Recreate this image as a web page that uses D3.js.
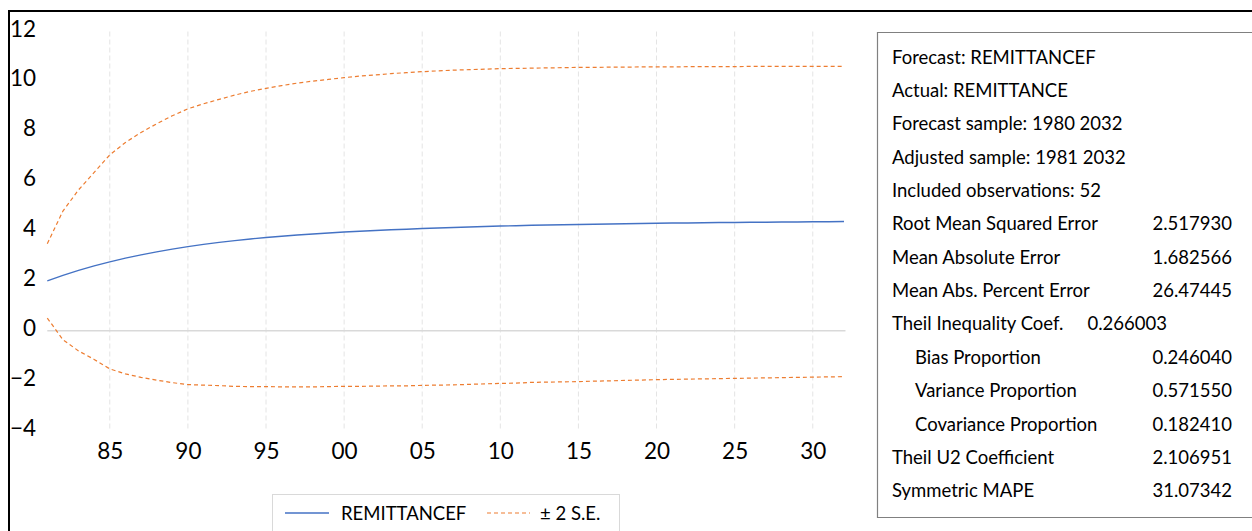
<!DOCTYPE html>
<html>
<head>
<meta charset="utf-8">
<script src="https://cdn.jsdelivr.net/npm/d3@7"></script>
<style>
  html, body { margin: 0; padding: 0; background: #fff; }
  svg { display: block; }
  text { font-family: Lato, "Open Sans", sans-serif; fill: #000; }
</style>
</head>
<body>
<svg id="chart" width="1252" height="531"></svg>
<script>
// ---------- data ----------
const years = d3.range(1981, 2033);
const forecast = [
  2.00, 2.22, 2.42, 2.60, 2.76, 2.91, 3.04, 3.16, 3.27, 3.37,
  3.46, 3.54, 3.61, 3.68, 3.74, 3.79, 3.84, 3.88, 3.92, 3.96,
  3.99, 4.02, 4.05, 4.07, 4.10, 4.12, 4.14, 4.16, 4.18, 4.20,
  4.21, 4.23, 4.24, 4.25, 4.26, 4.27, 4.28, 4.29, 4.30, 4.31,
  4.32, 4.32, 4.33, 4.34, 4.34, 4.35, 4.35, 4.36, 4.36, 4.37,
  4.37, 4.38
];
const upper = [
  3.49, 4.80, 5.65, 6.35, 7.05, 7.55, 7.95, 8.30, 8.62, 8.90,
  9.10, 9.28, 9.45, 9.60, 9.72, 9.83, 9.93, 10.01, 10.08, 10.15,
  10.21, 10.26, 10.31, 10.35, 10.39, 10.42, 10.45, 10.47, 10.49, 10.51,
  10.52, 10.53, 10.54, 10.55, 10.56, 10.56, 10.57, 10.57, 10.58, 10.58,
  10.58, 10.59, 10.59, 10.59, 10.59, 10.60, 10.60, 10.60, 10.60, 10.60,
  10.60, 10.60
];
const lower = [
  0.51, -0.36, -0.81, -1.15, -1.53, -1.73, -1.87, -1.98, -2.08, -2.16,
  -2.18, -2.20, -2.23, -2.24, -2.24, -2.25, -2.25, -2.25, -2.24, -2.23,
  -2.23, -2.22, -2.21, -2.21, -2.19, -2.18, -2.17, -2.15, -2.13, -2.11,
  -2.10, -2.07, -2.06, -2.05, -2.04, -2.02, -2.01, -1.99, -1.98, -1.96,
  -1.95, -1.94, -1.93, -1.92, -1.91, -1.90, -1.89, -1.88, -1.87, -1.86,
  -1.85, -1.84
];
const xTickYears = [1985, 1990, 1995, 2000, 2005, 2010, 2015, 2020, 2025, 2030];
const yTicks = [-4, -2, 0, 2, 4, 6, 8, 10, 12];
const legendLabels = ["REMITTANCEF", "\u00B1 2 S.E."];
const statLabels = [
  "Forecast: REMITTANCEF",
  "Actual: REMITTANCE",
  "Forecast sample: 1980 2032",
  "Adjusted sample: 1981 2032",
  "Included observations: 52",
  "Root Mean Squared Error",
  "Mean Absolute Error",
  "Mean Abs. Percent Error",
  "Theil Inequality Coef.",
  "Bias Proportion",
  "Variance Proportion",
  "Covariance Proportion",
  "Theil U2 Coefficient",
  "Symmetric MAPE"
];
const statValues = [
  "", "", "", "", "",
  "2.517930", "1.682566", "26.47445", "0.266003",
  "0.246040", "0.571550", "0.182410", "2.106951", "31.07342"
];
const statIndent = [0,0,0,0,0,0,0,0,0,1,1,1,0,0];

// ---------- drawing ----------
const svg = d3.select("#chart");
const blue = "#4472C4", orange = "#ED7D31";

const x = d3.scaleLinear().domain([1981, 2032]).range([47.3, 844]);
const y = d3.scaleLinear().domain([-4, 12]).range([430.5, 31.5]);

// outer frame (top and left edges visible)
svg.append("line").attr("x1", 8).attr("x2", 1252).attr("y1", 11).attr("y2", 11)
  .attr("stroke", "#000").attr("stroke-width", 2);
svg.append("line").attr("x1", 9).attr("x2", 9).attr("y1", 10).attr("y2", 531)
  .attr("stroke", "#000").attr("stroke-width", 2);

// vertical dashed gridlines
svg.append("g").selectAll("line").data(xTickYears).join("line")
  .attr("x1", d => x(d)).attr("x2", d => x(d))
  .attr("y1", y(12)).attr("y2", y(-4))
  .attr("stroke", "#e4e4e4").attr("stroke-width", 1)
  .attr("stroke-dasharray", "5,3");

// zero line
svg.append("line").attr("x1", x(1981)).attr("x2", x(2032) + 1.5)
  .attr("y1", y(0)).attr("y2", y(0))
  .attr("stroke", "#d9d9d9").attr("stroke-width", 1.5);

// y axis labels (no domain line)
const yAxis = d3.axisLeft(y).tickValues(yTicks).tickSize(0).tickPadding(0)
  .tickFormat(d3.format("d"));
const gy = svg.append("g").attr("transform", "translate(36,0)").call(yAxis);
gy.select(".domain").remove();
gy.selectAll("text").attr("font-size", 22.5).attr("font-family", "Lato")
  .attr("fill", "#000").attr("dy", "0.2em").attr("x", 0);

// x axis labels
const xAxis = d3.axisBottom(x).tickValues(xTickYears).tickSize(0).tickPadding(0)
  .tickFormat(d => String(d % 100).padStart(2, "0"));
const gx = svg.append("g").attr("transform", "translate(0,443)").call(xAxis);
gx.select(".domain").remove();
gx.selectAll("text").attr("font-size", 22.5).attr("font-family", "Lato")
  .attr("fill", "#000").attr("dy", "0.72em");

// series
const line = arr => d3.line().x((d, i) => x(years[i])).y(d => y(d))(arr);
svg.append("path").attr("d", line(upper)).attr("fill", "none")
  .attr("stroke", orange).attr("stroke-width", 1.2).attr("stroke-dasharray", "4,3");
svg.append("path").attr("d", line(lower)).attr("fill", "none")
  .attr("stroke", orange).attr("stroke-width", 1.2).attr("stroke-dasharray", "4,3");
svg.append("path").attr("d", line(forecast)).attr("fill", "none")
  .attr("stroke", blue).attr("stroke-width", 1.3);

// legend
const lg = svg.append("g");
lg.append("rect").attr("x", 272.5).attr("y", 494.5).attr("width", 347).attr("height", 50)
  .attr("fill", "#fff").attr("stroke", "#d9d9d9").attr("stroke-width", 1);
lg.append("line").attr("x1", 285).attr("x2", 329).attr("y1", 513).attr("y2", 513)
  .attr("stroke", blue).attr("stroke-width", 1.3);
lg.append("text").attr("x", 341).attr("y", 513).attr("dy", "0.36em")
  .attr("font-size", 18.5).text(legendLabels[0]);
lg.append("line").attr("x1", 487).attr("x2", 530).attr("y1", 513).attr("y2", 513)
  .attr("stroke", orange).attr("stroke-width", 1.2).attr("stroke-dasharray", "4,3");
lg.append("text").attr("x", 540).attr("y", 513).attr("dy", "0.36em")
  .attr("font-size", 18.5).text(legendLabels[1]);

// stats box
const sb = svg.append("g");
sb.append("path").attr("d", "M1252,32.5 H877.5 V517.5 H1252")
  .attr("fill", "none").attr("stroke", "#808080").attr("stroke-width", 1.2);
const rowY = i => 57 + i * 33.35;
sb.selectAll("text.lab").data(statLabels).join("text").attr("class", "lab")
  .attr("x", (d, i) => statIndent[i] ? 915 : 892)
  .attr("y", (d, i) => rowY(i)).attr("dy", "0.36em")
  .attr("font-size", 18.5).text(d => d);
sb.selectAll("text.val").data(statValues).join("text").attr("class", "val")
  .attr("x", (d, i) => i === 8 ? 1167 : 1232)
  .attr("y", (d, i) => rowY(i)).attr("dy", "0.36em")
  .attr("text-anchor", "end")
  .attr("font-size", 18.5).text(d => d);
</script>
</body>
</html>
